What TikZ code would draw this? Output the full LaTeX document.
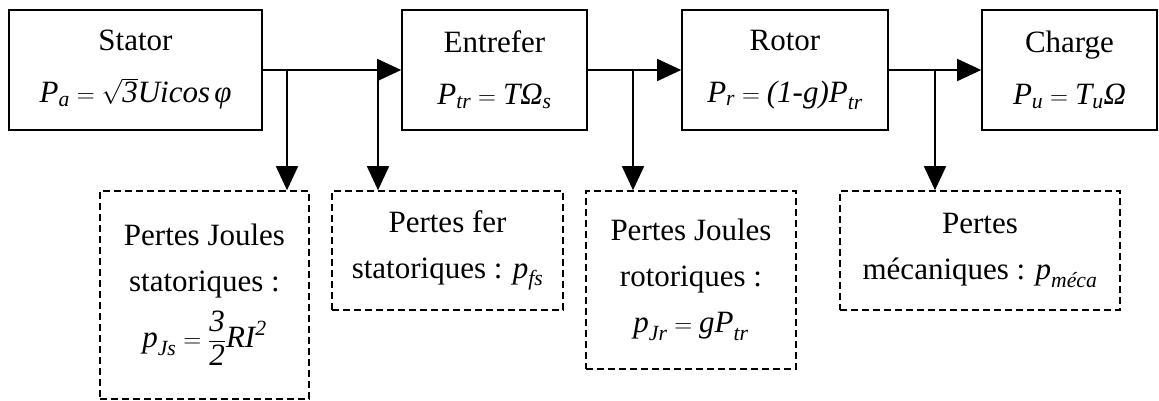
\documentclass[tikz,border=0pt]{standalone}
\usepackage{amsmath}
\usepackage{fontspec}
\setmainfont{Liberation Serif}
\usepackage{tikz}
\usetikzlibrary{arrows.meta}

\begin{document}
\begin{tikzpicture}[x=1pt,y=-1pt,
  font=\fontsize{31}{46}\selectfont,
  bloc/.style={draw,line width=1.6pt,align=center,minimum height=120pt,inner sep=0pt},
  pertes/.style={draw,dashed,dash pattern=on 7pt off 4pt,line width=1.6pt,align=center,inner sep=0pt},
  fleche/.style={line width=1.6pt,-{Triangle[length=24pt,width=22pt]}}]

\useasboundingbox (0,0) rectangle (1159,400);

% Blocs de la chaine de puissance
\node[bloc,minimum width=253pt] (stator) at (135.5,70)
  {Stator\\[6pt]$\textit{P}_{\textit{a}} = \sqrt{\textit{3}}\textit{Uicos}\,\textit{φ}$};
\node[bloc,minimum width=185pt] (entrefer) at (494.5,70)
  {Entrefer\\[6pt]$\textit{P}_{\textit{tr}} = \textit{TΩ}_{\textit{s}}$};
\node[bloc,minimum width=206pt] (rotor) at (785,70)
  {Rotor\\[6pt]$\textit{P}_{\textit{r}} = \textit{(1-g)P}_{\textit{tr}}$};
\node[bloc,minimum width=175pt] (charge) at (1069.5,70)
  {Charge\\[6pt]$\textit{P}_{\textit{u}} = \textit{T}_{\textit{u}}\textit{Ω}$};

% Pertes
\node[pertes,minimum width=209pt,minimum height=208pt] (pjs) at (204.5,295)
  {Pertes Joules\\statoriques :\\[10pt]$\textit{p}_{\textit{Js}} = \dfrac{\textit{3}}{\textit{2}}\textit{RI}^{\textit{2}}$};
\node[pertes,minimum width=231pt,minimum height=119pt] (pfs) at (447.5,250.5)
  {Pertes fer\\statoriques : $\textit{p}_{\textit{fs}}$};
\node[pertes,minimum width=210pt,minimum height=178pt] (pjr) at (691,280)
  {Pertes Joules\\rotoriques :\\$\textit{p}_{\textit{Jr}} = \textit{gP}_{\textit{tr}}$};
\node[pertes,minimum width=280pt,minimum height=119pt] (pmeca) at (980,250.5)
  {Pertes\\mécaniques : $\textit{p}_{\textit{méca}}$};

% Points de derivation
\coordinate (d1) at (287,70);
\coordinate (d2) at (378,70);
\coordinate (d3) at (633,70);
\coordinate (d4) at (935,70);

% Fleches
\draw[fleche] (stator) -- (entrefer);
\draw[fleche] (entrefer) -- (rotor);
\draw[fleche] (rotor) -- (charge);

\draw[fleche] (d1) -- (d1 |- pjs.north);
\draw[fleche] (d2) -- (d2 |- pfs.north);
\draw[fleche] (d3) -- (d3 |- pjr.north);
\draw[fleche] (d4) -- (d4 |- pmeca.north);

\end{tikzpicture}
\end{document}
